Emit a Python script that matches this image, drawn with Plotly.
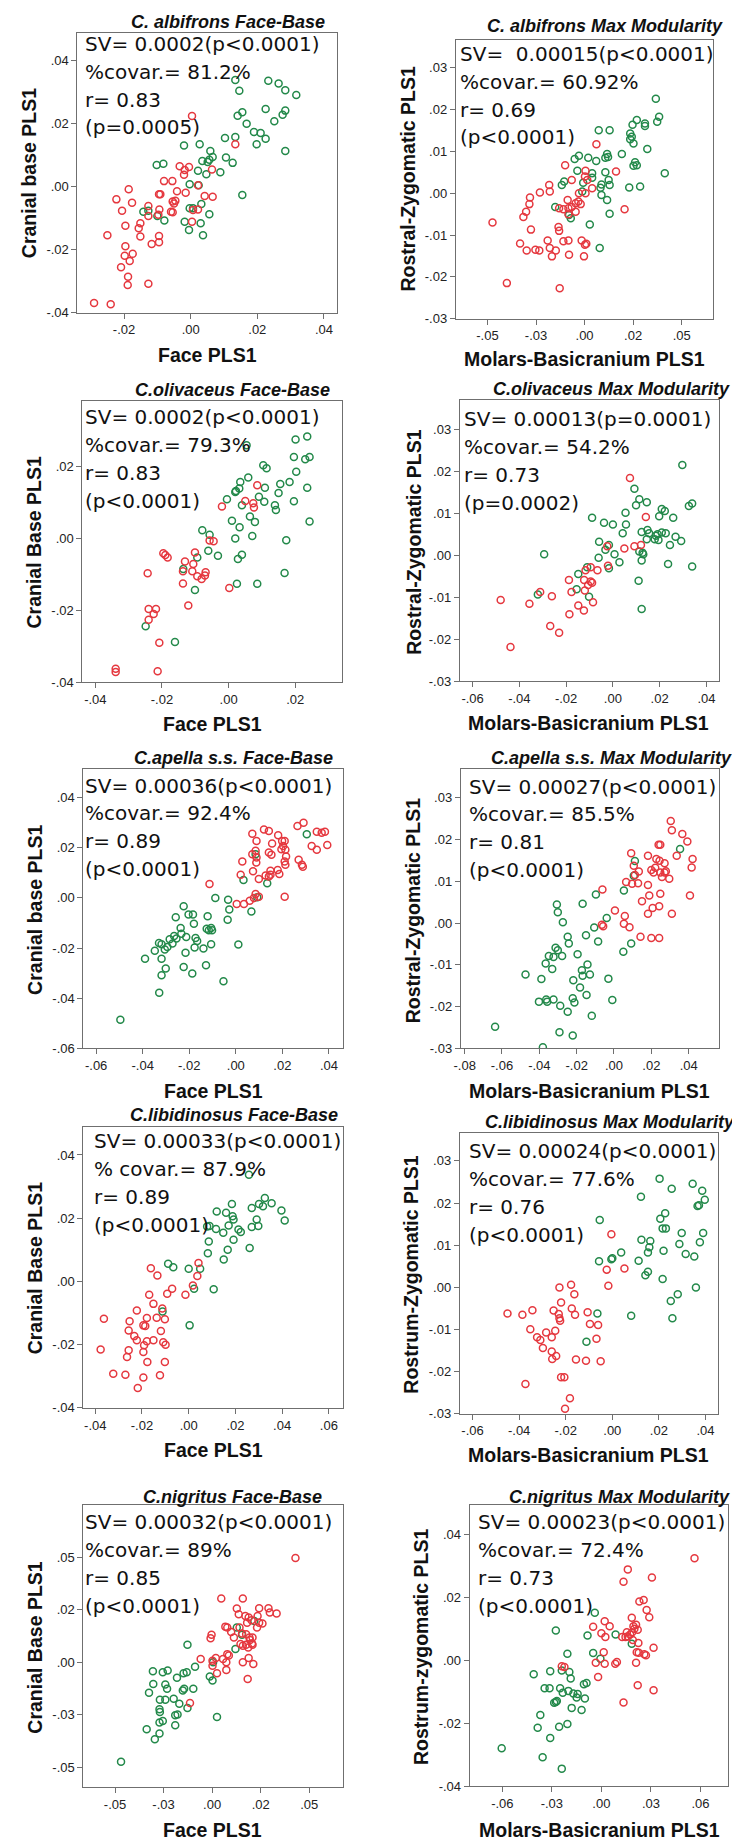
import plotly.graph_objects as go

W, H = 740, 1844

# ---- data: (x, y) pairs, green and red groups ----
alb_fb_green = [(0.0134,0.0339),(0.0146,0.0305),(0.0233,0.0337),(0.0264,0.0328),(0.0284,0.0307),(0.0317,0.0292),(0.0141,0.0226),(0.0155,0.0237),(0.0168,0.0200),(0.0225,0.0247),(0.0251,0.0208),(0.0276,0.0229),(0.0284,0.0242),(0.0284,0.0114),(0.0190,0.0174),(0.0210,0.0171),(0.0225,0.0153),(0.0198,0.0135),(0.0134,0.0158),(0.0103,0.0155),(-0.0020,0.0131),(0.0027,0.0135),(0.0059,0.0114),(0.0066,0.0095),(0.0056,0.0086),(0.0051,0.0079),(0.0106,0.0093),(0.0126,0.0076),(0.0089,0.0046),(0.0047,0.0040),(0.0022,0.0051),(0.0035,0.0082),(-0.0102,0.0069),(-0.0082,0.0073),(-0.0003,0.0008),(0.0024,0.0005),(0.0155,-0.0026),(-0.0142,-0.0079),(-0.0127,-0.0076),(-0.0079,-0.0107),(-0.0100,-0.0093),(-0.0003,-0.0068),(0.0007,-0.0068),(-0.0018,-0.0111),(-0.0005,-0.0137),(0.0030,-0.0116),(0.0056,-0.0087),(0.0037,-0.0154),(0.0032,-0.0055)]
alb_fb_red = [(0.0004,0.0225),(0.0134,0.0135),(0.0064,0.0055),(-0.0033,0.0065),(-0.0005,0.0063),(-0.0018,0.0053),(-0.0020,0.0038),(-0.0080,0.0018),(-0.0055,0.0018),(-0.0095,-0.0024),(-0.0091,-0.0024),(-0.0041,-0.0014),(-0.0015,-0.0019),(-0.0046,-0.0044),(-0.0054,-0.0047),(-0.0050,-0.0053),(-0.0059,-0.0079),(-0.0054,-0.0081),(0.0042,-0.0029),(0.0066,-0.0032),(0.0022,0.0005),(0.0007,-0.0074),(0.0004,-0.0111),(0.0022,-0.0072),(-0.0186,-0.0008),(-0.0223,-0.0040),(-0.0176,-0.0051),(-0.0206,-0.0076),(-0.0127,-0.0061),(-0.0127,-0.0093),(-0.0094,-0.0072),(-0.0097,-0.0089),(-0.0151,-0.0116),(-0.0156,-0.0132),(-0.0151,-0.0158),(-0.0196,-0.0124),(-0.0250,-0.0154),(-0.0117,-0.0182),(-0.0095,-0.0156),(-0.0095,-0.0176),(-0.0196,-0.0189),(-0.0198,-0.0219),(-0.0174,-0.0213),(-0.0183,-0.0236),(-0.0209,-0.0256),(-0.0188,-0.0286),(-0.0189,-0.0312),(-0.0127,-0.0308),(-0.0290,-0.0369),(-0.0240,-0.0373)]

alb_mm_green = [(0.0367,0.0226),(0.0374,0.0171),(0.0384,0.0183),(0.0269,0.0175),(0.0247,0.0164),(0.0311,0.0167),(0.0311,0.0161),(0.0235,0.0143),(0.0243,0.0135),(0.0235,0.0129),(0.0252,0.0119),(0.0323,0.0106),(0.0192,0.0094),(0.0116,0.0094),(0.0121,0.0087),(0.0107,0.0085),(0.0073,0.0151),(0.0129,0.0151),(-0.0051,0.0082),(-0.0029,0.0090),(0.0019,0.0085),(0.0060,0.0077),(-0.0037,0.0054),(0.0039,0.0048),(0.0039,0.0037),(0.0107,0.0050),(0.0129,0.0020),(0.0087,0.0021),(0.0082,0.0013),(-0.0007,0.0025),(-0.0012,0.0004),(0.0087,-0.0004),(0.0116,-0.0016),(0.0129,-0.0049),(0.0027,-0.0075),(0.0078,-0.0131),(-0.0105,0.0028),(-0.0117,0.0020),(-0.0151,-0.0033),(-0.0071,-0.0060),(-0.0080,-0.0052),(0.0260,0.0074),(0.0269,0.0067),(0.0252,0.0066),(0.0413,0.0048),(0.0286,0.0016),(0.0230,0.0014),(0.0124,0.0032)]
alb_mm_red = [(0.0061,0.0117),(0.0162,0.0052),(0.0206,-0.0038),(-0.0100,0.0067),(-0.0066,0.0032),(0.0005,0.0054),(0.0002,0.0040),(0.0014,0.0032),(0.0039,0.0012),(0.0005,0.0000),(-0.0029,0.0000),(-0.0032,-0.0020),(-0.0046,-0.0024),(-0.0020,-0.0026),(-0.0066,-0.0033),(-0.0046,-0.0044),(-0.0083,-0.0036),(-0.0087,-0.0016),(-0.0109,-0.0038),(-0.0083,-0.0050),(-0.0182,0.0020),(-0.0179,0.0004),(-0.0230,0.0002),(-0.0281,-0.0010),(-0.0284,-0.0026),(-0.0301,-0.0044),(-0.0315,-0.0057),(-0.0276,-0.0087),(-0.0474,-0.0070),(-0.0332,-0.0120),(-0.0298,-0.0137),(-0.0253,-0.0135),(-0.0233,-0.0137),(-0.0190,-0.0113),(-0.0179,-0.0131),(-0.0168,-0.0151),(-0.0148,-0.0137),(-0.0134,-0.0081),(-0.0131,-0.0090),(-0.0109,-0.0115),(-0.0083,-0.0113),(-0.0080,-0.0147),(-0.0015,-0.0113),(0.0002,-0.0123),(0.0009,-0.0121),(-0.0003,-0.0151),(-0.0400,-0.0215),(-0.0128,-0.0227),(-0.0131,-0.0036)]

oli_fb_green = [(0.0236,0.0282),(0.0201,0.0274),(0.0054,0.0258),(0.0196,0.0225),(0.0243,0.0225),(0.0230,0.0219),(0.0104,0.0202),(0.0114,0.0194),(0.0203,0.0184),(0.0059,0.0168),(0.0022,0.0131),(0.0035,0.0156),(0.0032,0.0138),(0.0020,0.0128),(0.0155,0.0150),(0.0183,0.0156),(0.0150,0.0125),(0.0109,0.0140),(0.0091,0.0115),(0.0107,0.0101),(0.0236,0.0140),(0.0196,0.0102),(-0.0005,0.0108),(0.0040,0.0091),(0.0139,0.0091),(0.0142,0.0078),(0.0010,0.0048),(0.0064,0.0060),(0.0079,0.0045),(0.0243,0.0046),(0.0033,0.0030),(0.0020,-0.0001),(0.0071,0.0006),(0.0173,-0.0006),(-0.0079,0.0022),(-0.0057,0.0009),(-0.0061,-0.0035),(-0.0032,-0.0049),(-0.0094,-0.0054),(0.0040,-0.0046),(0.0028,-0.0058),(-0.0136,-0.0086),(-0.0101,-0.0144),(0.0025,-0.0127),(0.0086,-0.0127),(0.0168,-0.0097),(-0.0249,-0.0245),(-0.0161,-0.0289)]
oli_fb_red = [(0.0086,0.0147),(0.0050,0.0103),(0.0074,0.0097),(0.0076,0.0085),(-0.0020,0.0088),(-0.0057,-0.0007),(-0.0045,-0.0009),(-0.0196,-0.0042),(-0.0190,-0.0047),(-0.0183,-0.0054),(-0.0131,-0.0065),(-0.0101,-0.0040),(-0.0106,-0.0072),(-0.0137,-0.0092),(-0.0109,-0.0092),(-0.0069,-0.0095),(-0.0071,-0.0104),(-0.0094,-0.0106),(-0.0081,-0.0114),(-0.0137,-0.0126),(0.0002,-0.0139),(-0.0243,-0.0098),(-0.0121,-0.0187),(-0.0240,-0.0197),(-0.0218,-0.0197),(-0.0225,-0.0211),(-0.0240,-0.0227),(-0.0208,-0.0291),(-0.0339,-0.0363),(-0.0339,-0.0372),(-0.0213,-0.0370)]

oli_mm_green = [(0.0297,0.0215),(0.0092,0.0158),(0.0113,0.0133),(0.0099,0.0119),(0.0145,0.0126),(0.0209,0.0110),(0.0222,0.0105),(0.0339,0.0123),(0.0325,0.0117),(0.0054,0.0101),(0.0056,0.0073),(0.0198,0.0093),(0.0258,0.0089),(-0.0089,0.0089),(-0.0038,0.0077),(0.0000,0.0073),(0.0042,0.0052),(0.0123,0.0055),(0.0148,0.0060),(0.0155,0.0052),(0.0209,0.0054),(0.0226,0.0052),(0.0191,0.0050),(0.0179,0.0038),(0.0195,0.0036),(0.0145,0.0038),(0.0184,0.0046),(0.0268,0.0044),(0.0292,0.0034),(0.0244,0.0024),(0.0236,-0.0021),(0.0339,-0.0027),(-0.0059,0.0032),(-0.0017,0.0024),(-0.0032,0.0013),(0.0007,0.0002),(0.0028,-0.0017),(-0.0061,-0.0006),(-0.0017,-0.0031),(0.0113,0.0009),(0.0127,0.0006),(0.0123,-0.0013),(0.0130,0.0002),(0.0110,-0.0061),(0.0123,-0.0128),(-0.0294,0.0002),(-0.0110,-0.0029),(-0.0148,-0.0045),(-0.0155,-0.0081),(-0.0102,-0.0099),(-0.0321,-0.0094)]
oli_mm_red = [(0.0073,0.0184),(0.0141,0.0091),(-0.0024,0.0021),(-0.0021,-0.0025),(0.0049,0.0016),(0.0092,0.0021),(0.0120,0.0024),(-0.0066,-0.0036),(-0.0095,-0.0029),(-0.0117,-0.0036),(-0.0188,-0.0059),(-0.0123,-0.0059),(-0.0095,-0.0063),(-0.0089,-0.0066),(-0.0106,-0.0071),(-0.0120,-0.0084),(-0.0177,-0.0088),(-0.0085,-0.0112),(-0.0148,-0.0120),(-0.0124,-0.0132),(-0.0186,-0.0141),(-0.0261,-0.0098),(-0.0311,-0.0088),(-0.0357,-0.0116),(-0.0480,-0.0107),(-0.0268,-0.0169),(-0.0230,-0.0185),(-0.0438,-0.0219)]

ape_fb_red = [(0.0071,0.0256),(0.0121,0.0273),(0.0142,0.0267),(0.0089,0.0227),(0.0182,0.0250),(0.0199,0.0227),(0.0210,0.0227),(0.0265,0.0287),(0.0291,0.0300),(0.0348,0.0264),(0.0369,0.0260),(0.0383,0.0264),(0.0326,0.0207),(0.0348,0.0192),(0.0393,0.0211),(0.0156,0.0217),(0.0153,0.0172),(0.0196,0.0194),(0.0213,0.0192),(0.0203,0.0207),(0.0216,0.0165),(0.0210,0.0145),(0.0213,0.0132),(0.0270,0.0152),(0.0284,0.0132),(0.0288,0.0124),(0.0085,0.0188),(0.0089,0.0161),(0.0088,0.0141),(0.0028,0.0145),(0.0021,0.0092),(0.0074,0.0106),(0.0099,0.0075),(0.0128,0.0089),(0.0149,0.0108),(0.0149,0.0092),(0.0142,0.0085),(0.0180,0.0111),(0.0187,0.0095),(-0.0113,0.0055),(0.0004,-0.0024),(0.0035,-0.0024),(0.0060,-0.0011),(0.0078,0.0000),(0.0085,0.0016),(0.0099,0.0005),(0.0210,0.0005),(0.0142,0.0181),(0.0071,0.0174)]
ape_fb_green = [(0.0305,0.0254),(0.0033,0.0071),(0.0135,0.0058),(0.0092,0.0003),(0.0067,-0.0054),(0.0085,0.0174),(-0.0088,0.0000),(-0.0033,-0.0007),(-0.0028,-0.0046),(-0.0035,-0.0087),(0.0011,-0.0186),(-0.0053,-0.0332),(-0.0224,-0.0033),(-0.0258,-0.0077),(-0.0203,-0.0066),(-0.0184,-0.0066),(-0.0180,-0.0103),(-0.0237,-0.0120),(-0.0234,-0.0143),(-0.0121,-0.0073),(-0.0125,-0.0123),(-0.0106,-0.0120),(-0.0102,-0.0129),(-0.0116,-0.0129),(-0.0106,-0.0185),(-0.0139,-0.0202),(-0.0128,-0.0268),(-0.0213,-0.0156),(-0.0173,-0.0160),(-0.0166,-0.0172),(-0.0177,-0.0198),(-0.0216,-0.0219),(-0.0265,-0.0152),(-0.0284,-0.0165),(-0.0255,-0.0162),(-0.0272,-0.0182),(-0.0294,-0.0196),(-0.0319,-0.0185),(-0.0330,-0.0180),(-0.0305,-0.0206),(-0.0348,-0.0211),(-0.0319,-0.0242),(-0.0301,-0.0281),(-0.0319,-0.0308),(-0.0390,-0.0242),(-0.0224,-0.0275),(-0.0187,-0.0301),(-0.0329,-0.0378),(-0.0496,-0.0486)]

ape_mm_red = [(0.0304,0.0244),(0.0310,0.0222),(0.0366,0.0213),(0.0393,0.0195),(0.0336,0.0161),(0.0421,0.0153),(0.0416,0.0133),(0.0407,0.0066),(0.0310,0.0022),(0.0239,0.0187),(0.0248,0.0187),(0.0182,0.0161),(0.0227,0.0153),(0.0244,0.0149),(0.0271,0.0143),(0.0221,0.0132),(0.0200,0.0127),(0.0212,0.0121),(0.0248,0.0121),(0.0278,0.0124),(0.0296,0.0106),(0.0257,0.0110),(0.0271,0.0121),(0.0092,0.0167),(0.0106,0.0137),(0.0133,0.0123),(0.0112,0.0115),(0.0065,0.0098),(0.0097,0.0094),(0.0129,0.0095),(0.0182,0.0091),(0.0189,0.0066),(0.0248,0.0070),(0.0150,0.0052),(0.0207,0.0036),(0.0242,0.0040),(0.0182,0.0022),(0.0142,-0.0033),(0.0200,-0.0036),(0.0242,-0.0036),(0.0005,0.0030),(0.0058,0.0017),(0.0053,-0.0002),(0.0083,-0.0010),(-0.0062,0.0080),(-0.0065,-0.0004),(-0.0058,-0.0008)]
ape_mm_green = [(0.0354,0.0177),(0.0112,0.0148),(0.0106,0.0113),(0.0053,0.0078),(-0.0097,0.0068),(-0.0039,0.0012),(-0.0106,-0.0011),(-0.0168,0.0046),(-0.0306,0.0044),(-0.0301,0.0026),(-0.0274,0.0002),(-0.0248,-0.0033),(-0.0242,-0.0049),(-0.0150,-0.0029),(-0.0085,-0.0044),(0.0050,-0.0069),(0.0092,-0.0049),(-0.0195,-0.0075),(-0.0313,-0.0059),(-0.0301,-0.0065),(-0.0324,-0.0081),(-0.0349,-0.0079),(-0.0366,-0.0097),(-0.0331,-0.0110),(-0.0278,-0.0079),(-0.0474,-0.0123),(-0.0389,-0.0134),(-0.0142,-0.0099),(-0.0172,-0.0113),(-0.0168,-0.0126),(-0.0129,-0.0123),(-0.0218,-0.0137),(-0.0182,-0.0154),(-0.0147,-0.0172),(-0.0030,-0.0133),(-0.0009,-0.0184),(-0.0402,-0.0188),(-0.0358,-0.0188),(-0.0363,-0.0183),(-0.0324,-0.0183),(-0.0288,-0.0198),(-0.0248,-0.0212),(-0.0221,-0.0180),(-0.0212,-0.0190),(-0.0119,-0.0222),(-0.0637,-0.0248),(-0.0292,-0.0261),(-0.0221,-0.0269),(-0.0381,-0.0297)]

lib_fb_green = [(0.0258,0.0337),(0.0326,0.0264),(0.0301,0.0245),(0.0355,0.0247),(0.0318,0.0238),(0.0270,0.0232),(0.0397,0.0224),(0.0411,0.0193),(0.0291,0.0196),(0.0298,0.0175),(0.0270,0.0172),(0.0185,0.0245),(0.0120,0.0221),(0.0160,0.0217),(0.0188,0.0206),(0.0192,0.0196),(0.0171,0.0177),(0.0148,0.0154),(0.0213,0.0164),(0.0223,0.0156),(0.0117,0.0166),(0.0089,0.0175),(0.0079,0.0174),(0.0086,0.0126),(0.0082,0.0089),(0.0192,0.0132),(0.0167,0.0100),(0.0150,0.0069),(0.0261,0.0106),(-0.0088,0.0056),(-0.0066,0.0045),(0.0000,0.0040),(0.0049,0.0040),(0.0023,-0.0023),(0.0107,-0.0025),(-0.0112,-0.0095),(0.0004,-0.0139)]
lib_fb_red = [(0.0042,0.0058),(0.0037,0.0017),(0.0018,-0.0013),(-0.0014,-0.0042),(-0.0162,0.0042),(-0.0134,0.0019),(-0.0169,-0.0042),(-0.0151,-0.0071),(-0.0092,-0.0039),(-0.0071,-0.0023),(-0.0222,-0.0092),(-0.0179,-0.0116),(-0.0137,-0.0115),(-0.0113,-0.0086),(-0.0102,-0.0120),(-0.0363,-0.0118),(-0.0253,-0.0126),(-0.0194,-0.0139),(-0.0186,-0.0141),(-0.0257,-0.0155),(-0.0233,-0.0173),(-0.0222,-0.0186),(-0.0179,-0.0189),(-0.0151,-0.0186),(-0.0119,-0.0157),(-0.0109,-0.0192),(-0.0099,-0.0200),(-0.0377,-0.0215),(-0.0257,-0.0218),(-0.0264,-0.0239),(-0.0191,-0.0202),(-0.0194,-0.0223),(-0.0177,-0.0255),(-0.0102,-0.0255),(-0.0323,-0.0292),(-0.0271,-0.0295),(-0.0194,-0.0304),(-0.0123,-0.0297),(-0.0218,-0.0337)]

lib_mm_green = [(0.0203,0.0258),(0.0345,0.0246),(0.0255,0.0234),(0.0386,0.0229),(0.0123,0.0215),(0.0397,0.0208),(0.0366,0.0193),(0.0372,0.0195),(0.0227,0.0176),(0.0206,0.0163),(0.0216,0.0140),(0.0230,0.0140),(-0.0054,0.0160),(0.0298,0.0129),(0.0390,0.0129),(0.0125,0.0113),(0.0163,0.0110),(0.0159,0.0095),(0.0153,0.0083),(0.0220,0.0087),(0.0288,0.0103),(0.0376,0.0107),(0.0315,0.0079),(0.0352,0.0073),(0.0038,0.0083),(0.0113,0.0063),(0.0000,0.0069),(-0.0004,0.0067),(-0.0057,0.0062),(0.0142,0.0029),(0.0153,0.0037),(0.0216,0.0020),(0.0281,-0.0016),(0.0359,0.0000),(0.0251,-0.0032),(0.0258,-0.0073),(0.0081,-0.0067),(-0.0064,-0.0062),(-0.0111,-0.0129)]
lib_mm_red = [(-0.0004,0.0126),(-0.0024,0.0042),(0.0052,0.0045),(-0.0017,0.0004),(-0.0227,0.0000),(-0.0177,0.0006),(-0.0163,-0.0016),(-0.0220,-0.0036),(-0.0174,-0.0050),(-0.0252,-0.0055),(-0.0230,-0.0063),(-0.0227,-0.0073),(-0.0224,-0.0079),(-0.0106,-0.0059),(-0.0096,-0.0087),(-0.0061,-0.0089),(-0.0160,-0.0065),(-0.0450,-0.0062),(-0.0386,-0.0065),(-0.0343,-0.0054),(-0.0352,-0.0099),(-0.0323,-0.0118),(-0.0309,-0.0125),(-0.0298,-0.0144),(-0.0284,-0.0107),(-0.0260,-0.0118),(-0.0245,-0.0103),(-0.0260,-0.0152),(-0.0258,-0.0170),(-0.0241,-0.0163),(-0.0156,-0.0171),(-0.0113,-0.0174),(-0.0050,-0.0175),(-0.0068,-0.0122),(-0.0373,-0.0229),(-0.0220,-0.0213),(-0.0206,-0.0213),(-0.0182,-0.0263),(-0.0203,-0.0288)]

nig_fb_red = [(0.0429,0.0497),(0.0047,0.0304),(0.0158,0.0304),(0.0127,0.0256),(0.0137,0.0229),(0.0171,0.0221),(0.0188,0.0213),(0.0234,0.0221),(0.0242,0.0257),(0.0290,0.0257),(0.0297,0.0237),(0.0332,0.0232),(0.0180,0.0189),(0.0203,0.0200),(0.0242,0.0189),(0.0259,0.0185),(0.0231,0.0166),(0.0068,0.0170),(0.0078,0.0166),(0.0141,0.0166),(0.0098,0.0145),(0.0112,0.0118),(0.0154,0.0137),(0.0175,0.0134),(0.0192,0.0118),(0.0208,0.0118),(0.0195,0.0106),(0.0205,0.0090),(0.0146,0.0087),(0.0158,0.0079),(0.0175,0.0084),(0.0208,0.0084),(0.0186,0.0071),(0.0078,0.0039),(0.0086,0.0032),(0.0056,0.0016),(0.0019,0.0021),(0.0002,0.0008),(0.0002,-0.0016),(-0.0059,0.0016),(0.0025,-0.0052),(0.0073,0.0000),(0.0073,-0.0036),(0.0158,0.0000),(0.0188,0.0021),(0.0212,-0.0008),(0.0183,-0.0079),(-0.0114,-0.0194),(-0.0003,0.0131),(-0.0008,0.0115)]
nig_fb_green = [(0.0217,0.0197),(0.0127,0.0166),(0.0154,0.0131),(0.0120,0.0063),(-0.0127,0.0084),(-0.0088,-0.0021),(0.0005,0.0000),(-0.0012,-0.0068),(0.0002,-0.0087),(0.0025,-0.0260),(-0.0305,-0.0043),(-0.0254,-0.0047),(-0.0229,-0.0039),(-0.0303,-0.0103),(-0.0325,-0.0145),(-0.0241,-0.0106),(-0.0232,-0.0126),(-0.0181,-0.0074),(-0.0147,-0.0052),(-0.0131,-0.0047),(-0.0144,-0.0126),(-0.0151,-0.0134),(-0.0097,-0.0126),(-0.0269,-0.0178),(-0.0241,-0.0178),(-0.0271,-0.0224),(-0.0269,-0.0237),(-0.0198,-0.0174),(-0.0169,-0.0197),(-0.0127,-0.0218),(-0.0190,-0.0252),(-0.0178,-0.0249),(-0.0271,-0.0287),(-0.0254,-0.0279),(-0.0190,-0.0300),(-0.0337,-0.0319),(-0.0271,-0.0339),(-0.0295,-0.0366),(-0.0469,-0.0473)]

nig_mm_red = [(0.0564,0.0324),(0.0160,0.0289),(0.0134,0.0250),(0.0306,0.0263),(0.0230,0.0187),(0.0256,0.0192),(0.0274,0.0160),(0.0290,0.0137),(0.0184,0.0135),(0.0210,0.0113),(0.0194,0.0108),(0.0200,0.0100),(0.0186,0.0089),(0.0174,0.0082),(0.0154,0.0089),(0.0126,0.0074),(0.0146,0.0074),(0.0160,0.0076),(0.0190,0.0065),(0.0220,0.0097),(0.0224,0.0055),(-0.0050,0.0107),(0.0020,0.0124),(0.0050,0.0108),(0.0000,0.0086),(0.0024,0.0074),(0.0014,0.0026),(-0.0034,-0.0008),(0.0020,-0.0011),(0.0084,-0.0011),(0.0094,-0.0005),(0.0210,-0.0008),(0.0214,0.0026),(0.0226,0.0024),(0.0260,0.0019),(0.0270,0.0016),(0.0316,0.0040),(-0.0240,-0.0019),(-0.0224,-0.0021),(-0.0020,-0.0053),(0.0220,-0.0079),(0.0316,-0.0095),(0.0134,-0.0134)]
nig_mm_green = [(-0.0040,0.0151),(-0.0276,0.0095),(-0.0084,0.0079),(-0.0050,0.0023),(-0.0006,0.0005),(0.0086,0.0082),(0.0184,0.0053),(-0.0206,0.0021),(-0.0310,-0.0035),(-0.0410,-0.0044),(-0.0344,-0.0089),(-0.0314,-0.0089),(-0.0240,-0.0032),(-0.0194,-0.0037),(-0.0186,-0.0058),(-0.0250,-0.0089),(-0.0234,-0.0103),(-0.0286,-0.0135),(-0.0276,-0.0132),(-0.0270,-0.0129),(-0.0200,-0.0097),(-0.0170,-0.0105),(-0.0144,-0.0107),(-0.0106,-0.0076),(-0.0090,-0.0072),(-0.0100,-0.0121),(-0.0180,-0.0151),(-0.0120,-0.0158),(-0.0370,-0.0174),(-0.0386,-0.0214),(-0.0206,-0.0202),(-0.0256,-0.0211),(-0.0310,-0.0247),(-0.0356,-0.0308),(-0.0240,-0.0344),(-0.0604,-0.0279),(-0.0150,-0.0118)]

# ---- text ----
titles = ["C. albifrons Face-Base", "C. albifrons Max Modularity",
          "C.olivaceus Face-Base", "C.olivaceus Max Modularity",
          "C.apella s.s. Face-Base", "C.apella s.s. Max Modularity",
          "C.libidinosus Face-Base", "C.libidinosus Max Modularity",
          "C.nigritus Face-Base", "C.nigritus Max Modularity"]
y_titles = ["Cranial base PLS1", "Rostral-Zygomatic PLS1",
            "Cranial Base PLS1", "Rostral-Zygomatic PLS1",
            "Cranial base PLS1", "Rostral-Zygomatic PLS1",
            "Cranial Base PLS1", "Rostrum-Zygomatic PLS1",
            "Cranial Base PLS1", "Rostrum-zygomatic PLS1"]
x_titles = ["Face PLS1", "Molars-Basicranium PLS1"] * 5
stats = [
    ["SV= 0.0002(p&lt;0.0001)", "%covar.= 81.2%", "r= 0.83", "(p=0.0005)"],
    ["SV=\u00a0 0.00015(p&lt;0.0001)", "%covar.= 60.92%", "r= 0.69", "(p&lt;0.0001)"],
    ["SV= 0.0002(p&lt;0.0001)", "%covar.= 79.3%", "r= 0.83", "(p&lt;0.0001)"],
    ["SV= 0.00013(p=0.0001)", "%covar.= 54.2%", "r= 0.73", "(p=0.0002)"],
    ["SV= 0.00036(p&lt;0.0001)", "%covar.= 92.4%", "r= 0.89", "(p&lt;0.0001)"],
    ["SV= 0.00027(p&lt;0.0001)", "%covar.= 85.5%", "r= 0.81", "(p&lt;0.0001)"],
    ["SV= 0.00033(p&lt;0.0001)", "% covar.= 87.9%", "r= 0.89", "(p&lt;0.0001)"],
    ["SV= 0.00024(p&lt;0.0001)", "%covar.= 77.6%", "r= 0.76", "(p&lt;0.0001)"],
    ["SV= 0.00032(p&lt;0.0001)", "%covar.= 89%", "r= 0.85", "(p&lt;0.0001)"],
    ["SV= 0.00023(p&lt;0.0001)", "%covar.= 72.4%", "r= 0.73", "(p&lt;0.0001)"],
]

# tick values and labels
t01 = [-0.03, -0.02, -0.01, 0.0, 0.01, 0.02, 0.03]
t025 = [-0.05, -0.025, 0.0, 0.025, 0.05]
t025_txt = ["-.05", "-.03", ".00", ".02", ".05"]
t03 = [-0.06, -0.03, 0.0, 0.03, 0.06]
t03_txt = ["-.06", "-.03", ".00", ".03", ".06"]


def lab(v):
    s = "%.2f" % v
    return s.replace("0.", ".")


# panel layout in pixels: box (left, right, top, bottom), ranges, ticks
panels = [
    dict(g=alb_fb_green, r=alb_fb_red, box=(63, 325, 25, 306), xr=[-0.0340, 0.0439], yr=[-0.04, 0.0489],
         xt=[-0.02, 0, 0.02, 0.04], yt=[-0.04, -0.02, 0, 0.02, 0.04], title=(215, 14), xtl=(194, 349), ytl=(14, 166), txt=(70, 36)),
    dict(g=alb_mm_green, r=alb_mm_red, box=(445, 705, 32, 312), xr=[-0.0663, 0.0663], yr=[-0.03, 0.0367],
         xt=t025, xtt=t025_txt, yt=t01, title=(596, 18), xtl=(575, 353), ytl=(397, 171), txt=(448, 46)),
    dict(g=oli_fb_green, r=oli_fb_red, box=(68, 330, 395, 677), xr=[-0.0439, 0.034], yr=[-0.04, 0.038],
         xt=[-0.04, -0.02, 0, 0.02], yt=[-0.04, -0.02, 0, 0.02], title=(220, 384), xtl=(199, 719), ytl=(19, 537), txt=(70, 411)),
    dict(g=oli_mm_green, r=oli_mm_red, box=(449, 711, 394, 676), xr=[-0.0655, 0.0455], yr=[-0.03, 0.0369],
         xt=[-0.06, -0.04, -0.02, 0, 0.02, 0.04], yt=t01, title=(602, 383), xtl=(579, 718), ytl=(402, 536), txt=(452, 413)),
    dict(g=ape_fb_green, r=ape_fb_red, box=(69, 331, 764, 1045), xr=[-0.0655, 0.046], yr=[-0.06, 0.0515],
         xt=[-0.06, -0.04, -0.02, 0, 0.02, 0.04], yt=[-0.06, -0.04, -0.02, 0, 0.02, 0.04], title=(221, 753), xtl=(200, 1088), ytl=(20, 906), txt=(70, 781)),
    dict(g=ape_mm_green, r=ape_mm_red, box=(450, 711, 764, 1045), xr=[-0.0821, 0.0564], yr=[-0.03, 0.0369],
         xt=[-0.08, -0.06, -0.04, -0.02, 0, 0.02, 0.04], yt=t01, title=(602, 753), xtl=(580, 1088), ytl=(402, 906), txt=(457, 782)),
    dict(g=lib_fb_green, r=lib_fb_red, box=(69, 331, 1124, 1406), xr=[-0.0451, 0.066], yr=[-0.04, 0.0488],
         xt=[-0.04, -0.02, 0, 0.02, 0.04, 0.06], yt=[-0.04, -0.02, 0, 0.02, 0.04], title=(221, 1112), xtl=(200, 1448), ytl=(20, 1266), txt=(79, 1138)),
    dict(g=lib_mm_green, r=lib_mm_red, box=(449, 710, 1130, 1412), xr=[-0.0655, 0.0455], yr=[-0.03, 0.0366],
         xt=[-0.06, -0.04, -0.02, 0, 0.02, 0.04], yt=t01, title=(601, 1119), xtl=(579, 1453), ytl=(400, 1272), txt=(457, 1148)),
    dict(g=nig_fb_green, r=nig_fb_red, box=(69, 331, 1504, 1787), xr=[-0.0663, 0.0673], yr=[-0.0595, 0.0747],
         xt=t025, xtt=t025_txt, yt=t025, ytt=t025_txt, title=(220, 1495), xtl=(199, 1830), ytl=(20, 1647), txt=(70, 1521)),
    dict(g=nig_mm_green, r=nig_mm_red, box=(459, 720, 1504, 1786), xr=[-0.0798, 0.0768], yr=[-0.04, 0.0492],
         xt=t03, xtt=t03_txt, yt=[-0.04, -0.02, 0, 0.02, 0.04], title=(610, 1495), xtl=(590, 1830), ytl=(410, 1646), txt=(466, 1521)),
]

GREEN = "#23894a"
RED = "#e5383f"
TICKFONT = dict(family="Liberation Sans, Arial", size=13, color="#222")
LINE_GAP = 28  # px between lines of the statistics block

fig = go.Figure()
layout = dict(width=W, height=H, margin=dict(l=0, r=0, t=0, b=0),
              paper_bgcolor="white", plot_bgcolor="white", showlegend=False)
annotations = []

for i, p in enumerate(panels):
    n = i + 1
    xa = "x" if n == 1 else "x%d" % n
    ya = "y" if n == 1 else "y%d" % n
    l, r, t, b = p["box"]
    for pts, col in [(p["g"], GREEN), (p["r"], RED)]:
        fig.add_trace(go.Scatter(
            x=[q[0] for q in pts], y=[q[1] for q in pts], mode="markers",
            xaxis=xa, yaxis=ya, hoverinfo="x+y",
            marker=dict(symbol="circle-open", size=7, color=col, line=dict(width=1.5, color=col)),
        ))
    common = dict(showline=True, mirror=True, linecolor="#6f6f6f", linewidth=1,
                  showgrid=False, zeroline=False, ticks="outside", ticklen=5,
                  tickcolor="#6f6f6f", tickwidth=1, tickfont=TICKFONT, fixedrange=True)
    layout["xaxis" if n == 1 else "xaxis%d" % n] = dict(
        common, domain=[l / W, r / W], range=p["xr"], anchor=ya,
        tickvals=p["xt"], ticktext=p.get("xtt", [lab(v) for v in p["xt"]]))
    layout["yaxis" if n == 1 else "yaxis%d" % n] = dict(
        common, domain=[1 - b / H, 1 - t / H], range=p["yr"], anchor=xa,
        tickvals=p["yt"], ticktext=p.get("ytt", [lab(v) for v in p["yt"]]))

    # panel title
    annotations.append(dict(
        x=p["title"][0] / W, y=1 - p["title"][1] / H, xref="paper", yref="paper",
        text="<b><i>%s</i></b>" % titles[i], showarrow=False, xanchor="center", yanchor="middle",
        font=dict(family="Liberation Sans, Arial", size=18, color="#111")))
    # axis titles
    annotations.append(dict(
        x=p["xtl"][0] / W, y=1 - p["xtl"][1] / H, xref="paper", yref="paper",
        text="<b>%s</b>" % x_titles[i], showarrow=False, xanchor="center", yanchor="middle",
        font=dict(family="Liberation Sans, Arial", size=19.5, color="#111")))
    annotations.append(dict(
        x=p["ytl"][0] / W, y=1 - p["ytl"][1] / H, xref="paper", yref="paper", textangle=-90,
        text="<b>%s</b>" % y_titles[i], showarrow=False, xanchor="center", yanchor="middle",
        font=dict(family="Liberation Sans, Arial", size=19.5, color="#111")))
    # statistics block, one line at a time
    for k, line in enumerate(stats[i]):
        annotations.append(dict(
            x=p["txt"][0] / W, y=1 - (p["txt"][1] + k * LINE_GAP) / H, xref="paper", yref="paper",
            text=line, showarrow=False, xanchor="left", yanchor="middle", align="left",
            borderpad=0, font=dict(family="DejaVu Sans", size=20, color="#111")))

layout["annotations"] = annotations
fig.update_layout(**layout)
fig.write_html("out.html")
